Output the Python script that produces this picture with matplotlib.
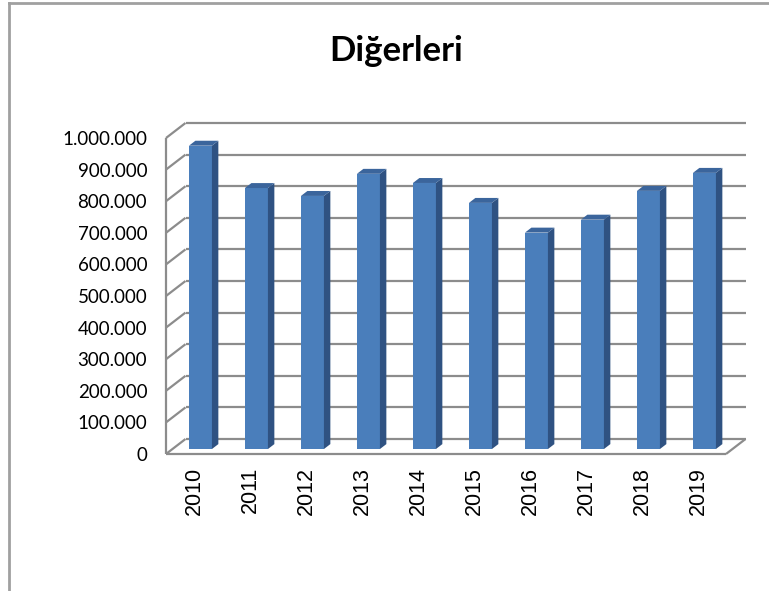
import matplotlib
matplotlib.use("Agg")
import matplotlib.pyplot as plt
from matplotlib.patches import Polygon
from matplotlib.lines import Line2D
from matplotlib.ticker import FuncFormatter

# --- Data ---
years = ["2010", "2011", "2012", "2013", "2014", "2015", "2016", "2017", "2018", "2019"]
values = [960000, 826000, 801000, 871000, 842000, 779000, 685000, 726000, 817000, 874000]
y_ticks = [0, 100000, 200000, 300000, 400000, 500000, 600000, 700000, 800000, 900000, 1000000]

W, H = 769, 591
fig = plt.figure(figsize=(W / 100, H / 100), dpi=100)
fig.patch.set_facecolor("white")

# front plane of the 3D box, in pixels
left_px, right_px, bottom_px, top_px = 166, 726, 454, 138
ax = fig.add_axes([left_px / W, (H - bottom_px) / H,
                   (right_px - left_px) / W, (bottom_px - top_px) / H])
n = len(years)
x0, x1 = -0.5, n - 0.5
ymax = 1000000
ax.set_xlim(x0, x1)
ax.set_ylim(0, ymax)
for s in ax.spines.values():
    s.set_visible(False)
ax.patch.set_visible(False)

# depth offset of back wall (pixels -> data units)
px_per_cat = (right_px - left_px) / n
px_per_val = (bottom_px - top_px) / ymax
dx = 19.5 / px_per_cat
dy = 15.0 / px_per_val

grid_kw = dict(color="#8c8c8c", lw=1.6, clip_on=False, zorder=1, solid_capstyle="butt")

# back wall gridlines + left wall diagonals
for t in y_ticks:
    ax.plot([x0 + dx, x1 + dx], [t + dy, t + dy], **grid_kw)
    ax.plot([x0, x0 + dx], [t, t + dy], **grid_kw)
# left wall front edge
ax.plot([x0, x0], [0, ymax], **grid_kw)
# floor outline
ax.plot([x0, x1], [0, 0], **grid_kw)
ax.plot([x1, x1 + dx], [0, dy], **grid_kw)

# bars
f0, f1 = 0.33, 0.66
bw = 0.41
front_c = "#4a7ebb"
side_c = "#2f5282"
top_c = "#3b659c"
ddx, ddy = (f1 - f0) * dx, (f1 - f0) * dy
for i, v in enumerate(values):
    xl = i - bw / 2 + f0 * dx
    xr = i + bw / 2 + f0 * dx
    b = f0 * dy
    ax.bar(xl, v, width=bw, bottom=b, align="edge", color=front_c,
           edgecolor="none", clip_on=False, zorder=3)
    side = Polygon([(xr, b), (xr + ddx, b + ddy), (xr + ddx, b + v + ddy), (xr, b + v)],
                   closed=True, facecolor=side_c, edgecolor="none", clip_on=False, zorder=3)
    top = Polygon([(xl, b + v), (xr, b + v), (xr + ddx, b + v + ddy), (xl + ddx, b + v + ddy)],
                  closed=True, facecolor=top_c, edgecolor="none", clip_on=False, zorder=3)
    ax.add_patch(side)
    ax.add_patch(top)

# ticks
ax.set_yticks(y_ticks)
ax.yaxis.set_major_formatter(FuncFormatter(lambda v, p: f"{int(v):,}".replace(",", ".")))
ax.tick_params(axis="y", length=0, pad=13.5, labelsize=13.5)
for lab in ax.get_yticklabels():
    lab.set_fontfamily("Lato")
ax.set_xticks(range(n))
ax.set_xticklabels(years, rotation=90, fontsize=15.5, fontfamily="Liberation Sans")
ax.tick_params(axis="x", length=0, pad=9.5)

# title
fig.text(396 / W, (H - 61) / H, "Diğerleri", ha="center", va="baseline",
         fontsize=25, fontweight="bold", fontfamily="Lato")

# outer chart border (top and left visible)
border_kw = dict(color="#a0a0a0", lw=2, transform=fig.transFigure)
fig.add_artist(Line2D([8.5 / W, 8.5 / W], [0, 1 - 2.5 / H], **border_kw))
fig.add_artist(Line2D([8.5 / W, 1], [1 - 2.5 / H, 1 - 2.5 / H], **border_kw))

fig.savefig("out.png", dpi=100)
